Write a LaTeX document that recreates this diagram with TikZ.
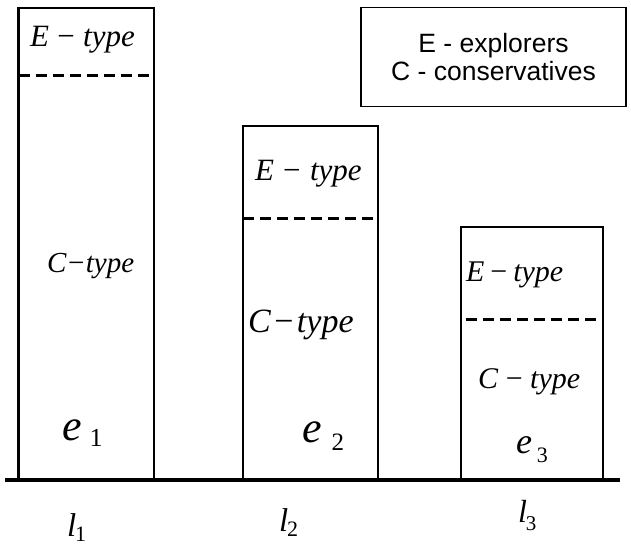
\documentclass[tikz,border=0pt]{standalone}
\usepackage{fontspec}
\setmainfont{Liberation Serif}
\newfontfamily\legendfont{Liberation Sans}

% italic "X - type" label: size, letter, space around the minus sign
\newcommand\typelabel[3]{\fontsize{#1}{#1}\selectfont\itshape #2\hspace{#3}\textup{−}\hspace{#3}type}
% italic letter with a lowered subscript digit: size, letter, gap, subscript size, drop, digit
\newcommand\sublabel[6]{\fontsize{#1}{#1}\selectfont\itshape #2\hspace{#3}\raisebox{-#5}{\fontsize{#4}{#4}\selectfont\upshape #6}}

\begin{document}
\begin{tikzpicture}[x=1pt,y=-1pt,
  bar/.style={draw, line width=2.6pt, anchor=south west, inner sep=0pt, outer sep=0pt},
  divider/.style={line width=3pt, dash pattern=on 11pt off 6pt},
  ground/.style={line width=3.6pt},
  lbl/.style={anchor=base west, inner sep=0pt, outer sep=0pt},
  legendbox/.style={draw, line width=1.8pt, inner sep=0pt, align=center,
    font=\legendfont\fontsize{26.5}{28}\selectfont}]

\useasboundingbox (0,0) rectangle (631,545);

% three bars standing on the ground line
\node[bar, minimum width=135.5pt, minimum height=472pt] (b1) at (18.5,480) {};
\node[bar, minimum width=135pt,   minimum height=354pt] (b2) at (243,480) {};
\node[bar, minimum width=142pt,   minimum height=253pt] (b3) at (461,480) {};

% ground line
\coordinate (gl) at (5,480);
\coordinate (gr) at (620,480);
\draw[ground] (gl) -- (gr);

% dashed E/C boundaries
\draw[divider] (b1.west |- 0,76) coordinate (d1l) -- (b1.east |- 0,76) coordinate (d1r);
\draw[divider] (b2.west |- 0,219) coordinate (d2l) -- (b2.east |- 0,219) coordinate (d2r);
\draw[divider] (466,319) coordinate (d3l) -- (b3.east |- 0,319) coordinate (d3r);

% bar 1
\node[lbl] (e1t) at (30,47)  {\typelabel{31}{E}{0.27em}};
\node[lbl] (c1t) at (47,272) {\typelabel{29}{C}{0.05em}};
\node[lbl] (e1)  at (62,440) {\sublabel{44}{e}{8pt}{26}{6pt}{1}};

% bar 2
\node[lbl] (e2t) at (255,181) {\typelabel{31}{E}{0.3em}};
\node[lbl] (c2t) at (248,332) {\typelabel{34}{C}{0.1em}};
\node[lbl] (e2)  at (302,442) {\sublabel{44}{e}{10pt}{25}{8pt}{2}};

% bar 3
\node[lbl] (e3t) at (466,281) {\typelabel{30}{E}{0.2em}};
\node[lbl] (c3t) at (478,388) {\typelabel{30}{C}{0.25em}};
\node[lbl] (e3)  at (516,453) {\sublabel{36}{e}{5pt}{22}{9pt}{3}};

% level labels under the ground line
\node[lbl] (l1) at (67,536)  {\sublabel{33}{l}{-1pt}{22}{5pt}{1}};
\node[lbl] (l2) at (279,531) {\sublabel{33}{l}{-1pt}{22}{5pt}{2}};
\node[lbl] (l3) at (518,522) {\sublabel{32}{l}{-1pt}{21}{8pt}{3}};

% legend
\node[legendbox, minimum width=265pt, minimum height=99pt] (legend) at (493.5,57)
  {E - explorers\\C - conservatives};

\end{tikzpicture}
\end{document}
